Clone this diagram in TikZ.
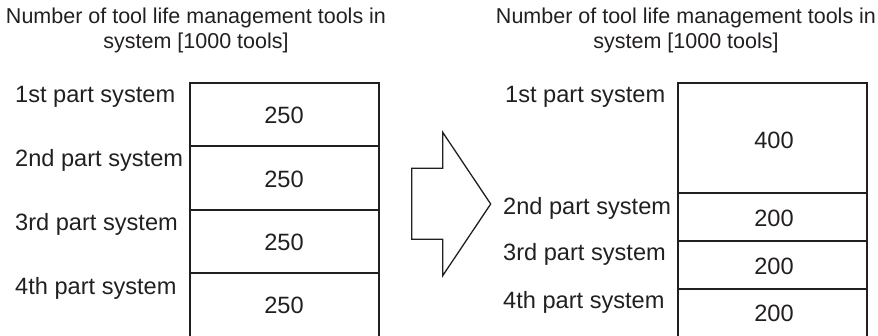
\documentclass[tikz,border=0pt]{standalone}
\usepackage{fontspec}
\setmainfont{Liberation Sans}
\definecolor{ink}{HTML}{231F20}
\tikzset{
  lbl/.style={anchor=base west, inner sep=0pt, text=ink, font=\fontsize{23.6}{28}\selectfont},
  num/.style={anchor=base, inner sep=0pt, text=ink, font=\fontsize{23.6}{28}\selectfont},
  ttl/.style={anchor=north, inner sep=0pt, text=ink, align=center, font=\fontsize{21.5}{25}\selectfont},
  cell/.style={draw=ink, line width=1.8pt},
  bigarrow/.style={draw=ink, line width=1.3pt, line join=miter}
}
\begin{document}
\begin{tikzpicture}[x=1pt,y=-1pt]
\useasboundingbox (0,0) rectangle (878,336);
% titles
\node[ttl] (t1) at (196,8) {Number of tool life management tools in\\system [1000 tools]};
\node[ttl] (t2) at (686,8) {Number of tool life management tools in\\system [1000 tools]};
% left stack
\draw[cell] (189.7,82.7) rectangle (379.3,145.7);
\draw[cell] (189.7,145.7) rectangle (379.3,210);
\draw[cell] (189.7,210) rectangle (379.3,273.3);
\draw[cell] (189.7,273.3) rectangle (379.3,340);
\node[num] (a1) at (284,124) {250};
\node[num] (a2) at (284,187.5) {250};
\node[num] (a3) at (284,250.7) {250};
\node[num] (a4) at (284,314) {250};
\node[lbl] (l1) at (15,102.5) {1st part system};
\node[lbl] (l2) at (15,166.5) {2nd part system};
\node[lbl] (l3) at (15,230.5) {3rd part system};
\node[lbl] (l4) at (15,294.5) {4th part system};
% arrow
\draw[bigarrow] (411.7,168.3) -- (442.7,168.3) -- (442.7,132.3) -- (490.7,204)
  -- (442.7,275.7) -- (442.7,239.3) -- (411.7,239.3) -- cycle;
% right stack
\draw[cell] (678,82.7) rectangle (866.7,193.3);
\draw[cell] (678,193.3) rectangle (866.7,241);
\draw[cell] (678,241) rectangle (866.7,289);
\draw[cell] (678,289) rectangle (866.7,340);
\node[num] (b1) at (774,148.3) {400};
\node[num] (b2) at (774,227) {200};
\node[num] (b3) at (774,274.5) {200};
\node[num] (b4) at (774,322) {200};
\node[lbl] (r1) at (505,102.5) {1st part system};
\node[lbl] (r2) at (503,215) {2nd part system};
\node[lbl] (r3) at (503,261) {3rd part system};
\node[lbl] (r4) at (503,309) {4th part system};
\end{tikzpicture}
\end{document}
